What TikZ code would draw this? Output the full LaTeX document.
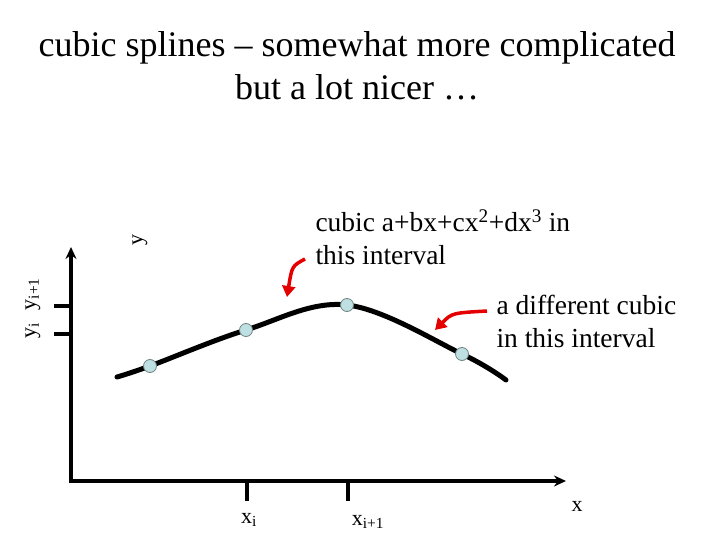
\documentclass[tikz,border=0pt]{standalone}
\usepackage{fontspec}
\setmainfont{Liberation Serif}
\usetikzlibrary{arrows.meta}
\definecolor{knotfill}{RGB}{190,224,226}
\definecolor{knotedge}{RGB}{110,130,130}
\begin{document}
\begin{tikzpicture}[x=1pt, y=-1pt, >={Stealth[length=12pt, width=11pt]}]
    \useasboundingbox (0,0) rectangle (720,540);
    \tikzset{
        knot/.style={circle, fill=knotfill, draw=knotedge, line width=0.8pt,
            minimum size=13pt, inner sep=0pt},
        hint/.style={-{Triangle[length=11pt, width=13pt]}, red!90!black, line width=3.5pt},
        lbl/.style={font=\fontsize{27.5}{33}\selectfont, align=left, anchor=west},
        axlbl/.style={font=\fontsize{22}{26}\selectfont}
    }

    \node[font=\fontsize{36}{43}\selectfont, align=center] (title) at (357,66)
        {cubic splines -- somewhat more complicated\\but a lot nicer \ldots};

    % axes
    \coordinate (origin) at (71,481);
    \coordinate (ytop) at (71,247);
    \coordinate (xend) at (566,481);
    \draw[->, line width=3.5pt] (origin) -- (ytop);
    \draw[->, line width=3.5pt] ([xshift=-1.75pt]origin) -- (xend);

    % ticks
    \draw[line width=3.5pt] (54,306) -- (71,306);
    \draw[line width=3.5pt] (54,334) -- (71,334);
    \draw[line width=3.5pt] (247,481) -- (247,501);
    \draw[line width=3.5pt] (348,481) -- (348,501);

    \node[axlbl, rotate=90] (yi) at (33,331) {y\textsubscript{i}};
    \node[axlbl, rotate=90] (yip) at (33,294) {y\textsubscript{i+1}};
    \node[axlbl, rotate=90] (ylab) at (140,240) {y};
    \node[axlbl] (xi) at (249,520) {x\textsubscript{i}};
    \node[axlbl] (xip) at (368,522) {x\textsubscript{i+1}};
    \node[axlbl] (xlab) at (577,506) {x};

    % the spline
    \draw[line width=5pt, line cap=round] plot[smooth, tension=0.6] coordinates
        {(117,377) (150,366) (246,330) (347,305) (462,354) (506,380)};
    \foreach \n/\p in {a/{(150,366)}, b/{(246,330)}, c/{(347,305)}, d/{(462,354)}}
        \node[knot] (k\n) at \p {};

    % labels and pointers
    \node[lbl] (first) at (312,237)
        {cubic a+bx+cx\textsuperscript{2}+dx\textsuperscript{3} in\\this interval};
    \node[lbl] (second) at (493,321) {a different cubic\\in this interval};
    \coordinate (p1) at (287,297);
    \coordinate (p2) at (435,330);
    \draw[hint] (305,259) .. controls (292,266) .. (p1);
    \draw[hint] ([xshift=-6pt]second.west |- 0,311) .. controls (452,313) .. (p2);
\end{tikzpicture}
\end{document}
